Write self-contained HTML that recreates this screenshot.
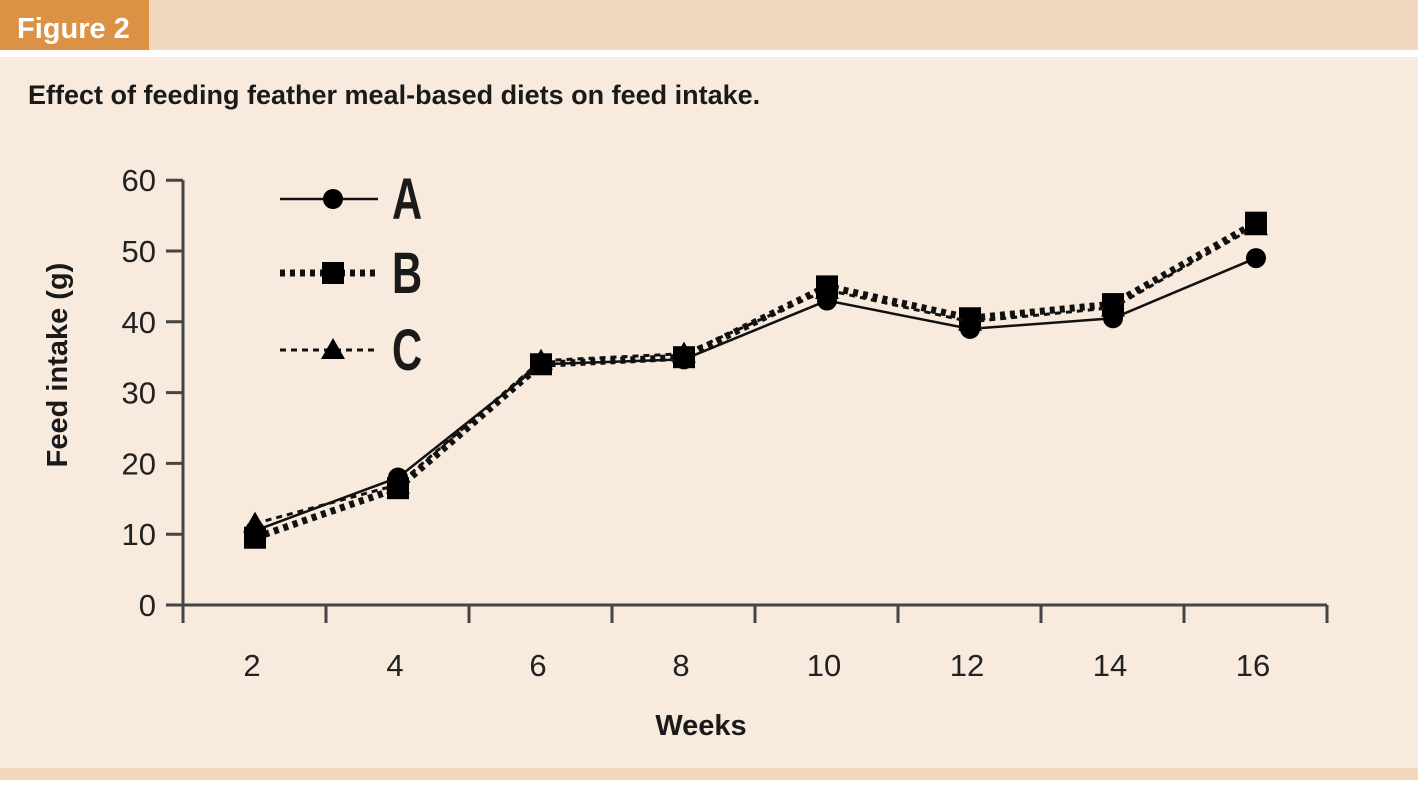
<!DOCTYPE html>
<html><head><meta charset="utf-8"><style>
body{margin:0;width:1418px;height:791px;background:#fff;overflow:hidden;font-family:"Liberation Sans Narrow","Liberation Sans",sans-serif}
#wrap{position:absolute;left:0;top:0;width:1418px;height:791px}
</style></head><body>
<div id="wrap">
<svg width="1418" height="791">
<rect x="0" y="0" width="1418" height="50" fill="#f0d7bd"/>
<rect x="0" y="0" width="149" height="50" fill="#dc9245"/>
<text x="17" y="38" font-size="29" font-weight="bold" fill="#fff">Figure 2</text>
<rect x="0" y="57" width="1418" height="711" fill="#f8eadc"/>
<rect x="0" y="768" width="1418" height="12" fill="#f1d8bd"/>
<text x="28" y="104" font-size="27" font-weight="bold" fill="#1a1a1a">Effect of feeding feather meal-based diets on feed intake.</text>
<g id="axes"></g>
<g id="series"></g>
<g id="legend"></g>
<text x="701" y="735" font-size="29" font-weight="bold" text-anchor="middle" fill="#1a1a1a">Weeks</text>
<text transform="translate(67,365) rotate(-90)" font-size="29" font-weight="bold" text-anchor="middle" fill="#1a1a1a">Feed intake (g)</text>
</svg>
</div>
<script>
const weeks=[2,4,6,8,10,12,14,16];
const seriesA=[10.5,18,34,34.7,43,39,40.5,49];
const seriesB=[9.5,16.5,34,35,45,40.5,42.5,54];
const seriesC=[11.5,17,34.5,35.5,44.5,40,42,53.5];
const yTicks=[0,10,20,30,40,50,60];
const ns="http://www.w3.org/2000/svg";
function X(w){return 255+(w-2)/2*143;}
function Y(v){return 605-v*7.08;}
function mk(t,a,p){const e=document.createElementNS(ns,t);for(const k in a)e.setAttribute(k,a[k]);p.appendChild(e);return e;}
const ax=document.getElementById('axes');
let l=mk('line',{x1:183,y1:Y(0),x2:1327,y2:Y(0),stroke:'#444','stroke-width':3},ax);


l=mk('line',{x1:183,y1:Y(0),x2:183,y2:Y(60),stroke:'#444','stroke-width':3},ax);


yTicks.forEach(v=>{
 const t=mk('line',{x1:166,y1:Y(v),x2:183,y2:Y(v),stroke:'#444','stroke-width':3},ax);
 
 
 const tx=mk('text',{x:156,y:Y(v)+11,'font-size':31,'text-anchor':'end',fill:'#222'},ax);
 tx.textContent=v;
 
 
});
for(let i=0;i<=8;i++){
 const x=183+i*143;
 const t=mk('line',{x1:x,y1:Y(0),x2:x,y2:Y(0)+18,stroke:'#444','stroke-width':3},ax);
 
 
}
weeks.forEach(w=>{
 const tx=mk('text',{x:X(w)-3,y:676,'font-size':31,'text-anchor':'middle',fill:'#222'},ax);
 tx.textContent=w;
 
 
});
const sg=document.getElementById('series');
function marker(type,x,y,p){
 let e;
 if(type==='circle')e=mk('circle',{cx:x,cy:y,r:10,fill:'#000'},p);
 else if(type==='square')e=mk('rect',{x:x-11,y:y-11,width:22,height:22,fill:'#000'},p);
 else e=mk('polygon',{points:`${x},${y-12} ${x+12},${y+9} ${x-12},${y+9}`,fill:'#000'},p);
 return e;
}
const defs=[
 {name:'A',data:seriesA,dash:'',w:2.5,m:'circle'},
 {name:'B',data:seriesB,dash:'5 5',w:7,m:'square'},
 {name:'C',data:seriesC,dash:'6 5',w:3,m:'triangle'}];
[defs[1],defs[2],defs[0]].forEach(s=>{
 const g=mk('g',{},sg);
 
 
 const pts=s.data.map((v,i)=>X(weeks[i])+','+Y(v)).join(' ');
 const pl=mk('polyline',{points:pts,fill:'none',stroke:'#111','stroke-width':s.w,'stroke-dasharray':s.dash},g);
 
 
 s.data.forEach((v,i)=>{
  const m=marker(s.m,X(weeks[i]),Y(v),g);
  
  
 });
});
const lg=document.getElementById('legend');
const ly=[199,273,350];
defs.forEach((s,i)=>{
 const g=mk('g',{},lg);
 
 
 mk('line',{x1:280,y1:ly[i],x2:378,y2:ly[i],stroke:'#111','stroke-width':s.w,'stroke-dasharray':s.dash},g);
 marker(s.m,333,ly[i],g);
 const t=mk('text',{transform:`translate(392,${ly[i]+20}) scale(0.72,1)`,'font-size':58,'font-weight':'bold',fill:'#1a1a1a'},g);
 t.textContent=s.name;
});
</script>
</body></html>
